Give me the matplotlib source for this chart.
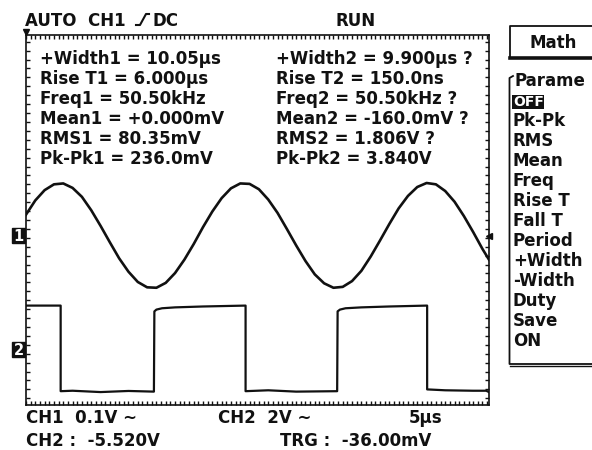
import numpy as np
import matplotlib
matplotlib.use("Agg")
import matplotlib.pyplot as plt
from matplotlib.patches import Rectangle

plt.rcParams["font.family"] = ["DejaVu Sans"]
plt.rcParams["font.weight"] = "bold"

# --- scope settings ---
SCREEN_US = 49.7          # full horizontal span (us), 5 us/div
SCREEN_DIV = 4.15         # half of the vertical span in divisions
CH1_VDIV_MV = 100.0       # CH1 0.1 V/div
CH2_VDIV_V = 2.0          # CH2 2 V/div
CH1_POS = -0.35           # ground marker positions (div)
CH2_POS = -2.90

# --- CH1 trace: sine, sampled every 1 us (mV) ---
CH1_T = [0, 1, 2, 3, 4, 5, 6, 7, 8, 9, 10, 11, 12, 13, 14, 15, 16, 17, 18, 19,
         20, 21, 22, 23, 24, 25, 26, 27, 28, 29, 30, 31, 32, 33, 34, 35, 36, 37,
         38, 39, 40, 41, 42, 43, 44, 45, 46, 47, 48, 49, 49.7]
CH1_MV = [47, 79, 102, 115, 117, 107, 87, 57, 22, -15, -51, -81, -104, -116,
          -117, -106, -84, -54, -19, 19, 54, 84, 106, 117, 116, 104, 81, 51, 15,
          -22, -57, -87, -107, -117, -115, -102, -79, -47, -11, 26, 61, 89, 109,
          118, 115, 100, 76, 44, 8, -30, -54]

# --- CH2 trace: square wave vertices (us, V) ---
CH2_T = [0, 3.72, 3.72, 5.0, 8.0, 11.0, 13.73, 13.78, 14.0, 14.6, 16.0, 19.0,
         23.57, 23.57, 26.0, 29.0, 33.40, 33.45, 33.7, 34.3, 36.0, 39.0, 43.06,
         43.06, 45.0, 48.0, 49.4, 49.7]
CH2_V = [1.96, 1.96, -1.88, -1.86, -1.92, -1.87, -1.90, 1.70, 1.78, 1.84, 1.88,
         1.92, 1.96, -1.88, -1.84, -1.90, -1.88, 1.70, 1.78, 1.84, 1.88, 1.92,
         1.96, -1.80, -1.84, -1.86, -1.86, -1.92]

# --- readouts ---
MEAS1 = ["+Width1 = 10.05µs", "Rise T1 = 6.000µs", "Freq1 = 50.50kHz",
         "Mean1 = +0.000mV", "RMS1 = 80.35mV", "Pk-Pk1 = 236.0mV"]
MEAS2 = ["+Width2 = 9.900µs ?", "Rise T2 = 150.0ns", "Freq2 = 50.50kHz ?",
         "Mean2 = -160.0mV ?", "RMS2 = 1.806V ?", "Pk-Pk2 = 3.840V"]
MENU = ["Pk-Pk", "RMS", "Mean", "Freq", "Rise T", "Fall T", "Period",
        "+Width", "-Width", "Duty", "Save", "ON"]

W, H = 592, 450
fig = plt.figure(figsize=(W / 100, H / 100), dpi=100)
fig.patch.set_facecolor("white")

# graticule area
L, R, T, B = 26, 489, 35, 405
ax = fig.add_axes([L / W, (H - B) / H, (R - L) / W, (B - T) / H])
ax.set_xlim(0, SCREEN_US)
ax.set_ylim(-SCREEN_DIV, SCREEN_DIV)
ax.patch.set_visible(False)
for s in ax.spines.values():
    s.set_linewidth(1.2)
    s.set_color("#111111")
ax.set_xticks(np.arange(0, SCREEN_US, 0.5))
ax.set_yticks(np.arange(-4.0, 4.01, 0.2))
ax.tick_params(direction="in", top=True, right=True, length=2.6, width=1.0,
               color="#111111", labelbottom=False, labelleft=False)

ch1 = CH1_POS + np.array(CH1_MV) / CH1_VDIV_MV
ch2 = CH2_POS + np.array(CH2_V) / CH2_VDIV_V
ax.plot(CH1_T, ch1, color="#111111", lw=1.9, solid_joinstyle="round")
ax.plot(CH2_T, ch2, color="#111111", lw=1.6)

# trigger level arrow on the right edge, trigger position on top
ax.plot([SCREEN_US], [CH1_POS], marker="<", ms=5, color="#111111", clip_on=False)
ax.plot([0], [SCREEN_DIV + 0.06], marker="v", ms=4, color="#111111", clip_on=False)

# overlay in pixel units for the text and the soft-key panel
ov = fig.add_axes([0, 0, 1, 1])
ov.set_xlim(0, W)
ov.set_ylim(H, 0)
ov.axis("off")

FS = 12


def txt(x, y, s, **kw):
    kw.setdefault("fontsize", FS)
    kw.setdefault("fontweight", "bold")
    ov.text(x, y, s, va="baseline", ha=kw.pop("ha", "left"),
            color=kw.pop("color", "#111111"), **kw)


# channel ground markers
def chan_marker(div, label):
    y = T + (SCREEN_DIV - div) / (2 * SCREEN_DIV) * (B - T)
    ov.add_patch(Rectangle((12, y - 7.5), 13, 15, facecolor="#111111",
                           edgecolor="#111111", lw=1))
    txt(18.5, y + 5.5, label, ha="center", color="white", fontsize=10.5)


chan_marker(CH1_POS, "1")
chan_marker(CH2_POS, "2")

# header line
txt(25, 25.5, "AUTO  CH1")
ov.plot([136, 140, 146, 149], [25, 25, 14, 14], color="#111111", lw=1.5)
txt(153, 25.5, "DC")
txt(356, 25.5, "RUN", ha="center")

# measurement readouts
for i, (a, b) in enumerate(zip(MEAS1, MEAS2)):
    y = 64.5 + 20 * i
    txt(40, y, a)
    txt(276, y, b)

# bottom status lines
txt(26, 423, "CH1  0.1V ∼")
txt(218, 423, "CH2  2V ∼")
txt(409, 423, "5µs")
txt(26, 445.5, "CH2 :  -5.520V")
txt(280, 445.5, "TRG :  -36.00mV")

# soft-key panel: Math button
ov.plot([510, 510, 600], [58, 26, 26], color="#111111", lw=1.3)
ov.plot([510, 600], [58, 58], color="#111111", lw=2.6)
txt(553, 47.5, "Math", ha="center")

# parameter menu
ov.plot([513, 509.5, 509.5, 600], [76, 78, 364, 364], color="#111111", lw=1.3)
ov.plot([509.5, 600], [365.5, 365.5], color="#111111", lw=1.0)
txt(514, 86.5, "Parame")
ov.add_patch(Rectangle((512, 94.5), 32, 14, facecolor="#111111", edgecolor="none"))
txt(513.5, 106.5, "OFF", color="white", fontsize=10)
for i, item in enumerate(MENU):
    txt(513, 126.5 + 20 * i, item)

fig.savefig("out.png", dpi=100, facecolor="white")
